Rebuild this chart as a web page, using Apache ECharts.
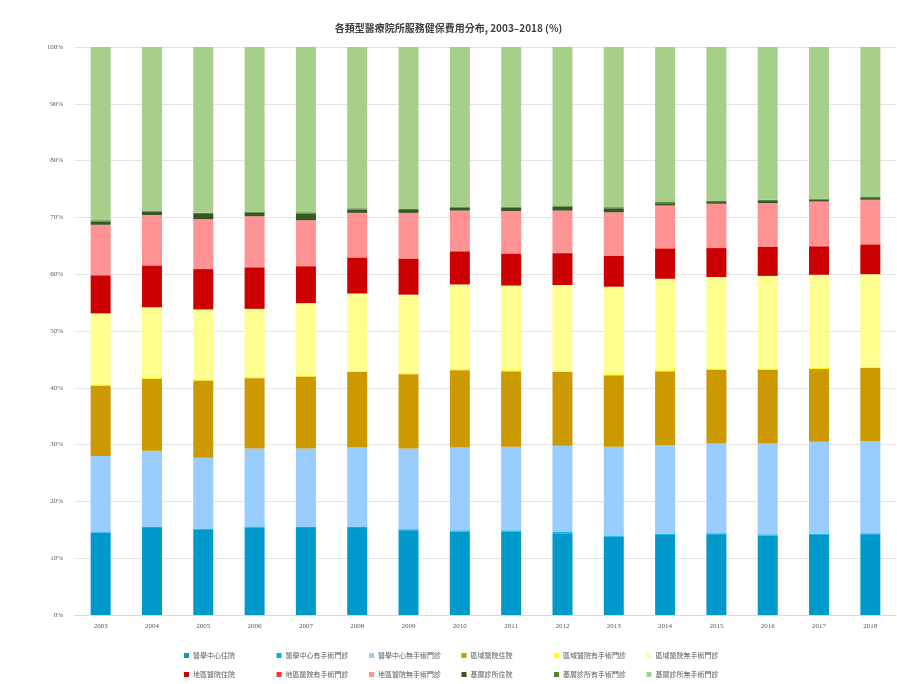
<!DOCTYPE html>
<html lang="zh-Hant">
<head>
<meta charset="UTF-8" />
<title>各類型醫療院所服務健保費用分布</title>
<script src="https://cdn.jsdelivr.net/npm/echarts@6/dist/echarts.min.js"></script>
<style>
  html, body { margin: 0; padding: 0; background: #fff; }
  #main { width: 897px; height: 684px; }
</style>
</head>
<body>
<div id="main"></div>
<script>
// 年份
let years = ['2003','2004','2005','2006','2007','2008','2009','2010','2011','2012','2013','2014','2015','2016','2017','2018'];

// 各類型 (%)
let mcInpatient   = [14.5,15.3,15.0,15.4,15.3,15.3,14.9,14.7,14.7,14.4,13.8,14.1,14.2,14.0,14.1,14.2];
let mcSurgOut     = [0.2,0.2,0.2,0.2,0.2,0.2,0.2,0.2,0.2,0.2,0.2,0.2,0.2,0.2,0.2,0.2];
let mcOtherOut    = [13.3,13.4,12.5,13.7,13.8,14.0,14.2,14.6,14.7,15.2,15.6,15.6,15.8,16.0,16.2,16.2];
let rhInpatient   = [12.4,12.7,13.6,12.4,12.7,13.3,13.1,13.6,13.3,13.0,12.6,13.0,13.0,13.0,12.8,12.9];
let rhSurgOut     = [0.2,0.2,0.2,0.2,0.2,0.2,0.2,0.2,0.2,0.2,0.2,0.2,0.2,0.2,0.2,0.2];
let rhOtherOut    = [12.5,12.4,12.3,12.0,12.7,13.6,13.8,14.9,14.9,15.1,15.4,16.1,16.1,16.3,16.4,16.3];
let dhInpatient   = [6.7,7.3,7.1,7.3,6.5,6.3,6.3,5.8,5.6,5.6,5.4,5.3,5.1,5.1,5.0,5.2];
let dhSurgOut     = [0.1,0.1,0.1,0.1,0.1,0.1,0.1,0.1,0.1,0.1,0.1,0.1,0.1,0.1,0.1,0.1];
let dhOtherOut    = [8.8,8.8,8.7,8.9,8.0,7.8,8.0,7.1,7.4,7.4,7.6,7.5,7.7,7.6,7.8,7.8];
let clInpatient   = [0.6,0.6,0.9,0.6,1.2,0.6,0.5,0.5,0.6,0.7,0.7,0.4,0.3,0.4,0.3,0.3];
let clSurgOut     = [0.2,0.2,0.2,0.2,0.2,0.2,0.2,0.2,0.2,0.2,0.2,0.2,0.2,0.2,0.2,0.2];
let clOtherOut    = [30.5,28.8,29.2,29.0,29.1,28.4,28.5,28.1,28.1,27.9,28.2,27.3,27.1,26.9,26.7,26.4];

let seriesNames = ['醫學中心住院','醫學中心有手術門診','醫學中心無手術門診',
                   '區域醫院住院','區域醫院有手術門診','區域醫院無手術門診',
                   '地區醫院住院','地區醫院有手術門診','地區醫院無手術門診',
                   '基層診所住院','基層診所有手術門診','基層診所無手術門診'];
let seriesData = [mcInpatient, mcSurgOut, mcOtherOut, rhInpatient, rhSurgOut, rhOtherOut,
                  dhInpatient, dhSurgOut, dhOtherOut, clInpatient, clSurgOut, clOtherOut];
let colors = ['#0099cc','#00b0f0','#99ccff','#cc9900','#ffff00','#ffff8f',
              '#cc0000','#ff3333','#ff9393','#375623','#548235','#a6d08a'];

let yTicks = [0,10,20,30,40,50,60,70,80,90,100];

let myChart = echarts.init(document.getElementById('main'));

let series = seriesNames.map(function (name, i) {
    return {
        name: name,
        type: 'bar',
        stack: 'total',
        barWidth: 20,
        animation: false,
        itemStyle: { color: colors[i] },
        data: seriesData[i]
    };
});

// 圖例: 兩列, 每列六項, 等距排列
let legends = seriesNames.map(function (name, i) {
    return {
        data: [name],
        left: 184 + (i % 6) * 92.5,
        top: 652 + Math.floor(i / 6) * 19,
        padding: 0,
        itemWidth: 5,
        itemHeight: 5,
        itemGap: 4,
        icon: 'rect',
        textStyle: {
            fontFamily: 'Noto Sans CJK TC',
            fontSize: 7,
            color: '#595959',
            padding: [0, 0, 0, -1]
        }
    };
});

myChart.setOption({
    color: colors,
    title: {
        text: '各類型醫療院所服務健保費用分布, 2003–2018 (%)',
        left: 'center',
        top: 18,
        textStyle: {
            fontFamily: 'Noto Sans CJK TC',
            fontSize: 10,
            fontWeight: 'bold',
            color: '#404040'
        }
    },
    grid: {
        left: 75,
        right: 1,
        top: 47,
        bottom: 69
    },
    legend: legends,
    xAxis: {
        type: 'category',
        data: years,
        axisLine: { lineStyle: { color: '#d9d9d9' } },
        axisTick: { show: false },
        axisLabel: {
            fontFamily: 'Liberation Serif',
            fontSize: 7,
            color: '#595959',
            margin: 8
        }
    },
    yAxis: {
        type: 'value',
        min: yTicks[0],
        max: yTicks[yTicks.length - 1],
        interval: 10,
        axisLine: { show: false },
        axisTick: { show: false },
        splitLine: { lineStyle: { color: '#e3e3e3' } },
        axisLabel: {
            fontFamily: 'Liberation Serif',
            fontSize: 7,
            color: '#595959',
            margin: 12,
            formatter: '{value}%'
        }
    },
    series: series
});
</script>
</body>
</html>
